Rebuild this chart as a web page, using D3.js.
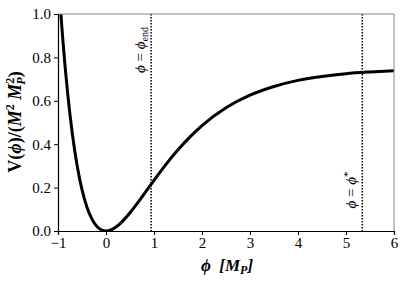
<!DOCTYPE html>
<html>
<head>
<meta charset="utf-8">
<script src="https://cdn.jsdelivr.net/npm/d3@7"></script>
<style>
  body { margin: 0; background: #fff; }
  text { font-family: "Liberation Serif", "DejaVu Serif", serif; }
</style>
</head>
<body>
<svg id="chart" width="405" height="282"></svg>
<script>
// field values (in M_P) and potential
var phiValues = [-1.0, -0.94, -0.9, -0.8, -0.7, -0.6, -0.5, -0.4, -0.3, -0.2, -0.1, 0.0,
                 0.1, 0.2, 0.3, 0.4, 0.5, 0.6, 0.8, 1.0, 1.25, 1.5, 1.75, 2.0, 2.5,
                 3.0, 3.5, 4.0, 4.5, 5.0, 5.5, 6.0];
var potValues = [1.196, 1.0, 0.883, 0.637, 0.446, 0.300, 0.1905, 0.112, 0.058, 0.0236, 0.0054, 0.0,
                 0.0046, 0.017, 0.0354, 0.0582, 0.0843, 0.1125, 0.1725, 0.2335, 0.307, 0.374, 0.434, 0.486, 0.568,
                 0.626, 0.666, 0.694, 0.712, 0.725, 0.733, 0.739];
var phiEnd = 0.94;
var phiStar = 5.34;
var xTicks = [-1, 0, 1, 2, 3, 4, 5, 6];
var yTicks = [0.0, 0.2, 0.4, 0.6, 0.8, 1.0];

var svg = d3.select("#chart");
var plotL = 58, plotR = 394, plotT = 14, plotB = 231;

var x = d3.scaleLinear().domain([-1, 6]).range([plotL, plotR]);
var y = d3.scaleLinear().domain([0, 1]).range([plotB, plotT]);

svg.append("clipPath").attr("id", "clip")
    .append("rect")
    .attr("x", plotL).attr("y", plotT)
    .attr("width", plotR - plotL).attr("height", plotB - plotT);

var pts = phiValues.map(function(p, i) { return [p, potValues[i]]; });

var line = d3.line()
    .x(function(d) { return x(d[0]); })
    .y(function(d) { return y(d[1]); })
    .curve(d3.curveMonotoneX);

// vertical dotted markers
[phiEnd, phiStar].forEach(function(p) {
    svg.append("line")
        .attr("x1", x(p)).attr("x2", x(p))
        .attr("y1", plotT).attr("y2", plotB)
        .attr("stroke", "#000")
        .attr("stroke-width", 1.5)
        .attr("stroke-dasharray", "1.5,1.5");
});

svg.append("path")
    .datum(pts)
    .attr("clip-path", "url(#clip)")
    .attr("d", line)
    .attr("fill", "none")
    .attr("stroke", "#000")
    .attr("stroke-width", 3);

// frame
svg.append("line").attr("x1", plotL).attr("x2", plotR).attr("y1", plotT).attr("y2", plotT)
    .attr("stroke", "#888").attr("stroke-width", 1);
svg.append("line").attr("x1", plotR).attr("x2", plotR).attr("y1", plotT).attr("y2", plotB)
    .attr("stroke", "#888").attr("stroke-width", 1);

var xAxis = svg.append("g")
    .attr("transform", "translate(0," + plotB + ")")
    .call(d3.axisBottom(x).tickValues(xTicks).tickSize(4).tickPadding(2)
        .tickFormat(function(d) { return d < 0 ? "\u2212" + Math.abs(d) : d; }));
var yAxis = svg.append("g")
    .attr("transform", "translate(" + plotL + ",0)")
    .call(d3.axisLeft(y).tickValues(yTicks).tickSize(4).tickPadding(3)
        .tickFormat(d3.format(".1f")));

[xAxis, yAxis].forEach(function(g) {
    g.attr("font-family", "Liberation Serif").attr("font-size", 15);
    g.selectAll("text").attr("fill", "#000");
    g.select(".domain").attr("stroke", "#000").attr("stroke-width", 1.2);
});

// axis labels
svg.append("text")
    .attr("x", 227).attr("y", 271)
    .attr("text-anchor", "middle")
    .attr("font-size", 17).attr("font-weight", "bold").attr("font-style", "italic")
    .html("\u03d5&#160;&#160;[M<tspan font-size='12' dy='3'>P</tspan><tspan dy='-3'>]</tspan>");

svg.append("text")
    .attr("transform", "translate(21,122) rotate(-90)")
    .attr("text-anchor", "middle")
    .attr("font-size", 18).attr("font-weight", "bold")
    .html("V(<tspan font-style='italic'>\u03d5</tspan>)/(<tspan font-style='italic'>M</tspan><tspan font-size='12' dy='-7'>2</tspan><tspan dy='7'> </tspan><tspan font-style='italic'>M</tspan><tspan font-size='12' dy='-7'>2</tspan><tspan font-size='12' font-style='italic' dx='-7' dy='11'>P</tspan><tspan dy='-4'>)</tspan>");

// marker annotations
svg.append("text")
    .attr("transform", "translate(" + (x(phiEnd) - 6) + ",50) rotate(-90)")
    .attr("text-anchor", "middle")
    .attr("font-size", 15)
    .html("<tspan font-style='italic'>\u03d5</tspan> = <tspan font-style='italic'>\u03d5</tspan><tspan font-size='10' dy='3'>end</tspan>");

svg.append("text")
    .attr("transform", "translate(" + (x(phiStar) - 6) + ",190) rotate(-90)")
    .attr("text-anchor", "middle")
    .attr("font-size", 15)
    .html("<tspan font-style='italic'>\u03d5</tspan> = <tspan font-style='italic'>\u03d5</tspan><tspan font-size='11' dy='-5'>*</tspan>");
</script>
</body>
</html>
